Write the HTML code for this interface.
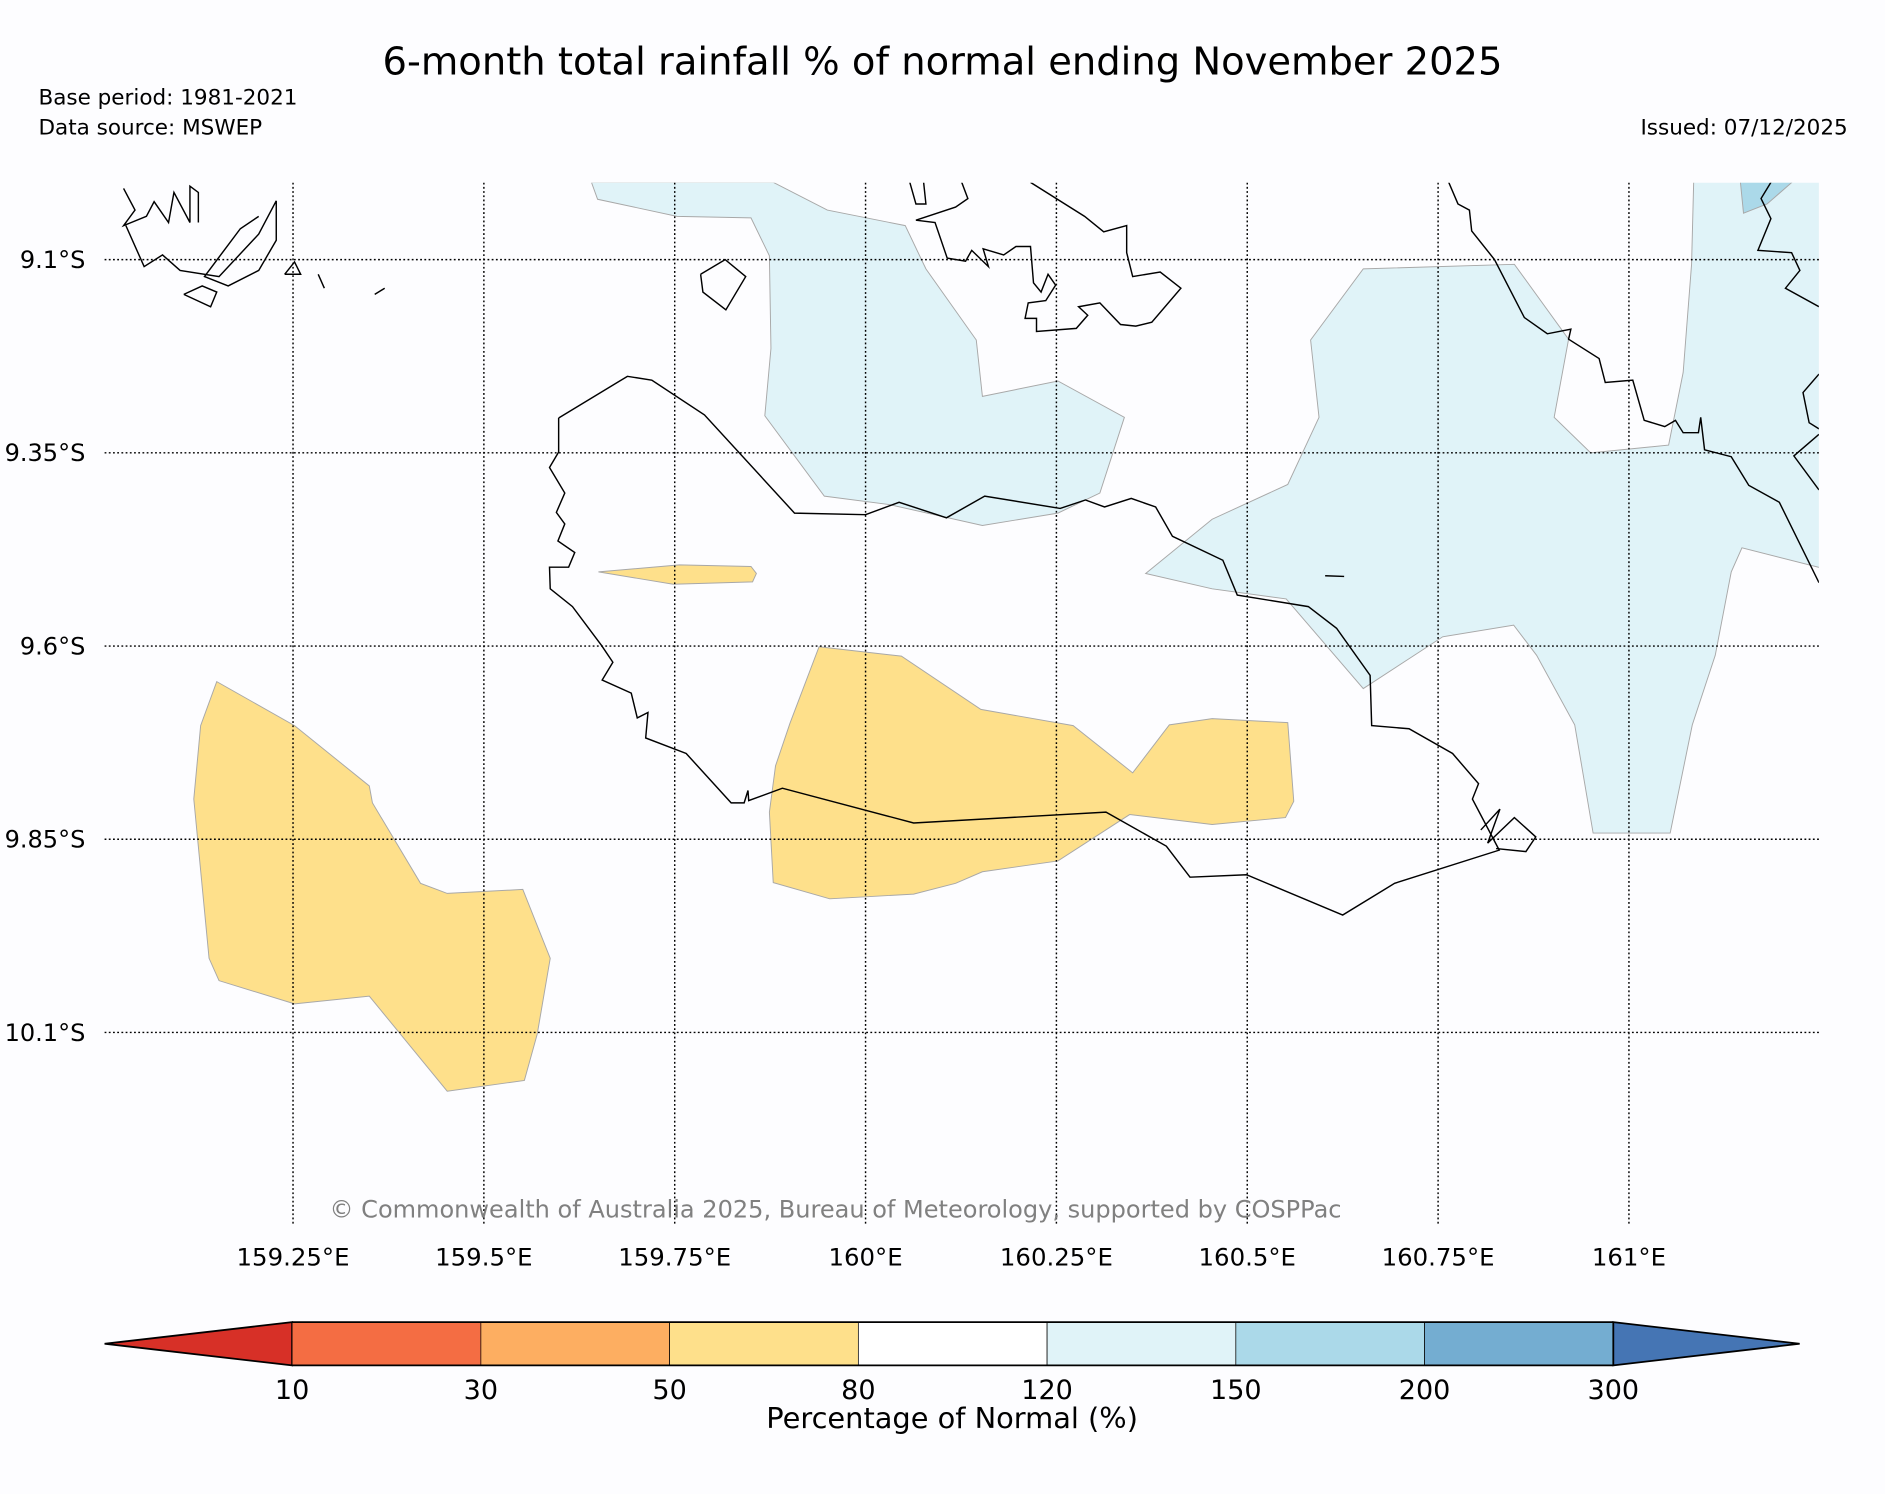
<!DOCTYPE html>
<html><head><meta charset="utf-8"><style>
html,body{margin:0;padding:0;background:#fdfdff;}
svg{display:block;font-family:"DejaVu Sans","Liberation Sans",sans-serif;}
</style></head><body>
<svg id="chart" width="1885" height="1494" viewBox="0 0 1568 1243" preserveAspectRatio="none" xmlns="http://www.w3.org/2000/svg">
<rect x="0" y="0" width="1568" height="1243" fill="#fdfdff"/>
<text x="784" y="62" font-size="32" text-anchor="middle">6-month total rainfall % of normal ending November 2025</text>
<text x="32" y="87" font-size="17.9">Base period: 1981-2021</text>
<text x="32" y="112" font-size="17.9">Data source: MSWEP</text>
<text x="1537" y="112" font-size="17.9" text-anchor="end">Issued: 07/12/2025</text>
<defs><clipPath id="mapclip"><rect x="87" y="152" width="1426" height="868"/></clipPath></defs>
<g id="map" clip-path="url(#mapclip)"></g>
<g id="grid"></g>
<g id="labels"></g>
<text x="695" y="1013" font-size="20" fill="#808080" text-anchor="middle">© Commonwealth of Australia 2025, Bureau of Meteorology, supported by COSPPac</text>
<g id="cbar"></g>
<text x="792" y="1188" font-size="24" text-anchor="middle">Percentage of Normal (%)</text>
</svg>
<script>
// ---- data ----
const lonTicks = [159.25, 159.5, 159.75, 160, 160.25, 160.5, 160.75, 161];
const lonTickLabels = ["159.25°E","159.5°E","159.75°E","160°E","160.25°E","160.5°E","160.75°E","161°E"];
const latTicks = [9.1, 9.35, 9.6, 9.85, 10.1];
const latTickLabels = ["9.1°S","9.35°S","9.6°S","9.85°S","10.1°S"];
const cbarBounds = ["10","30","50","80","120","150","200","300"];
const cbarColors = ["#d73027","#f46d43","#fdae61","#fee08b","#ffffff","#e0f3f8","#abd9e9","#74add1","#4575b4"];
const regionClasses = [3, 3, 3, 5, 5, 6];
const regionLeftDry = [[159.15,9.646],[159.252,9.703],[159.35,9.781],[159.354,9.803],[159.417,9.907],[159.452,9.920],[159.551,9.915],[159.587,10.004],[159.570,10.102],[159.553,10.162],[159.452,10.176],[159.35,10.053],[159.252,10.063],[159.153,10.033],[159.140,10.004],[159.120,9.798],[159.129,9.703]];
const regionCentreDry = [[159.939,9.601],[160.047,9.613],[160.151,9.682],[160.272,9.703],[160.350,9.764],[160.398,9.702],[160.454,9.694],[160.553,9.699],[160.561,9.801],[160.550,9.822],[160.454,9.831],[160.346,9.818],[160.252,9.878],[160.153,9.892],[160.118,9.907],[160.063,9.921],[159.953,9.927],[159.879,9.906],[159.874,9.815],[159.882,9.755],[159.901,9.700]];
const regionSmallDry = [[159.650,9.504],[159.756,9.495],[159.850,9.497],[159.857,9.506],[159.852,9.517],[159.748,9.520]];
const regionNorthWet = [[159.641,9.0],[159.649,9.022],[159.753,9.044],[159.850,9.046],[159.874,9.095],[159.876,9.215],[159.868,9.302],[159.946,9.406],[160.031,9.417],[160.153,9.444],[160.252,9.428],[160.307,9.402],[160.339,9.304],[160.252,9.257],[160.153,9.277],[160.145,9.204],[160.079,9.112],[160.052,9.056],[159.950,9.036],[159.879,9.0]];
const regionEastWet = [[160.652,9.112],[160.850,9.106],[160.921,9.203],[160.902,9.304],[160.950,9.350],[161.052,9.340],[161.071,9.246],[161.082,9.106],[161.085,8.99],[161.3,8.99],[161.3,9.511],[161.148,9.473],[161.134,9.504],[161.113,9.612],[161.083,9.702],[161.054,9.842],[160.953,9.842],[160.929,9.702],[160.879,9.612],[160.849,9.573],[160.756,9.588],[160.652,9.655],[160.551,9.539],[160.454,9.526],[160.367,9.506],[160.454,9.436],[160.553,9.391],[160.594,9.304],[160.583,9.204]];
const regionEastWetter = [[161.145,8.99],[161.225,8.99],[161.181,9.028],[161.150,9.040]];
const regions = [regionLeftDry, regionCentreDry, regionSmallDry, regionNorthWet, regionEastWet, regionEastWetter];
const coastIsabel = [[159.598,9.305],[159.688,9.251],[159.720,9.256],[159.789,9.301],[159.907,9.428],[160.0,9.430],[160.044,9.414],[160.106,9.434],[160.156,9.406],[160.255,9.422],[160.288,9.411],[160.313,9.420],[160.348,9.409],[160.380,9.420],[160.402,9.458],[160.468,9.489],[160.487,9.534],[160.580,9.549],[160.617,9.577],[160.661,9.638],[160.663,9.703],[160.712,9.707],[160.769,9.739],[160.803,9.778],[160.795,9.798],[160.830,9.864],[160.693,9.907],[160.625,9.948],[160.499,9.896],[160.425,9.899],[160.394,9.859],[160.315,9.815],[160.063,9.829],[159.891,9.784],[159.847,9.800],[159.846,9.787],[159.841,9.803],[159.824,9.803],[159.765,9.739],[159.712,9.719],[159.715,9.686],[159.701,9.693],[159.693,9.661],[159.655,9.644],[159.669,9.621],[159.654,9.599],[159.616,9.549],[159.587,9.526],[159.586,9.498],[159.611,9.498],[159.619,9.479],[159.597,9.464],[159.606,9.442],[159.595,9.427],[159.606,9.402],[159.586,9.369],[159.598,9.349],[159.598,9.305]];
const coastMalaita = [[160.764,9.0],[160.776,9.028],[160.791,9.036],[160.794,9.063],[160.824,9.100],[160.863,9.175],[160.893,9.196],[160.924,9.190],[160.921,9.203],[160.961,9.228],[160.969,9.259],[161.005,9.256],[161.020,9.308],[161.047,9.316],[161.061,9.308],[161.071,9.324],[161.091,9.324],[161.094,9.304],[161.099,9.346],[161.134,9.355],[161.157,9.392],[161.197,9.414],[161.249,9.518]];
const coastFarEast = [[161.186,9.0],[161.173,9.021],[161.186,9.047],[161.169,9.088],[161.213,9.091],[161.224,9.114],[161.205,9.137],[161.249,9.161]];
const coastNgella = [[160.126,9.0],[160.134,9.021],[160.118,9.032],[160.066,9.049],[160.091,9.052],[160.107,9.098],[160.131,9.102],[160.139,9.088],[160.161,9.109],[160.154,9.086],[160.181,9.094],[160.197,9.083],[160.216,9.083],[160.220,9.130],[160.230,9.142],[160.239,9.119],[160.249,9.133],[160.236,9.153],[160.213,9.156],[160.209,9.176],[160.224,9.176],[160.224,9.193],[160.276,9.189],[160.291,9.172],[160.279,9.161],[160.307,9.156],[160.334,9.184],[160.354,9.186],[160.375,9.181],[160.413,9.137],[160.386,9.116],[160.350,9.122],[160.342,9.091],[160.342,9.056],[160.312,9.064],[160.287,9.044],[160.216,9.0]];
const coastSavo = [[160.058,9.0],[160.066,9.028],[160.079,9.028],[160.076,9.0]];
const coastNW1 = [[159.028,9.008],[159.043,9.036],[159.028,9.056],[159.058,9.044],[159.068,9.025],[159.087,9.052],[159.094,9.013],[159.115,9.052],[159.115,9.005],[159.126,9.013],[159.126,9.052]];
const coastNW2 = [[159.031,9.056],[159.055,9.109],[159.079,9.094],[159.102,9.114],[159.153,9.122],[159.205,9.067],[159.228,9.024],[159.228,9.075],[159.205,9.114],[159.165,9.134],[159.134,9.122],[159.181,9.060],[159.205,9.044]];
const coastNW3 = [[159.107,9.145],[159.131,9.134],[159.150,9.142],[159.142,9.161],[159.107,9.145]];
const coastNW4 = [[159.239,9.119],[159.252,9.103],[159.260,9.119],[159.239,9.119]];
const coastNW5 = [[159.283,9.119],[159.291,9.137]];
const coastNW6 = [[159.357,9.145],[159.370,9.137]];
const coastLingo = [[159.784,9.119],[159.816,9.100],[159.843,9.122],[159.817,9.165],[159.787,9.142],[159.784,9.119]];
const coastDash = [[160.602,9.509],[160.627,9.510]];
const coastIslet = [[160.806,9.838],[160.831,9.811],[160.815,9.855],[160.850,9.822],[160.878,9.847],[160.865,9.866],[160.826,9.862]];
const coastEdge = [[161.249,9.248],[161.228,9.272],[161.236,9.311],[161.249,9.319]];
const coastEdge2 = [[161.249,9.326],[161.216,9.354],[161.249,9.398]];
const coasts = [coastIsabel, coastMalaita, coastFarEast, coastNgella, coastSavo, coastNW1, coastNW2, coastNW3, coastNW4, coastNW5, coastNW6, coastLingo, coastDash, coastIslet, coastEdge, coastEdge2];

const X = lon => 720 + (lon - 160) * 635;
const Y = lat => 216 + (lat - 9.1) * 643;
const NS = "http://www.w3.org/2000/svg";
function mk(tag, attrs, parent){ const e=document.createElementNS(NS,tag); for(const k in attrs) e.setAttribute(k,attrs[k]); parent.appendChild(e); return e; }
const pts = arr => arr.map(p => X(p[0]).toFixed(1)+","+Y(p[1]).toFixed(1)).join(" ");

const map = document.getElementById('map');
regions.forEach((r,i) => {
  const el = mk('polygon',{points:pts(r),fill:cbarColors[regionClasses[i]],stroke:'#a8a8a8','stroke-width':0.8},map);
  
  
});
coasts.forEach((c,i) => {
  const el = mk('polyline',{points:pts(c),fill:'none',stroke:'#000','stroke-width':1.2},map);
  
  
});

const grid = document.getElementById('grid');
const labels = document.getElementById('labels');
lonTicks.forEach((lon,i) => {
  const l = mk('line',{x1:X(lon),x2:X(lon),y1:152,y2:1020,stroke:'#000','stroke-width':1.2,'stroke-dasharray':'1.5,2'},grid);
  
  
  const t = mk('text',{x:X(lon),y:1053,'font-size':20.3,'text-anchor':'middle'},labels);
  t.textContent = lonTickLabels[i];
  
  
});
latTicks.forEach((lat,i) => {
  const l = mk('line',{x1:87,x2:1513,y1:Y(lat),y2:Y(lat),stroke:'#000','stroke-width':1.2,'stroke-dasharray':'1.5,2'},grid);
  
  
  const t = mk('text',{x:71,y:Y(lat)+7,'font-size':20,'text-anchor':'end'},labels);
  t.textContent = latTickLabels[i];
  
  
});

const cb = document.getElementById('cbar');
const cx0 = 243, cw = 157, cy0 = 1100, ch = 36;
const nb = cbarBounds.length;
const cx = i => cx0 + i * cw;
const lt = mk('polygon',{points:`87,${cy0+ch/2} ${cx0},${cy0} ${cx0},${cy0+ch}`,fill:cbarColors[0],stroke:'#000','stroke-width':1.5},cb);


for(let i=0;i<nb-1;i++){
  const r = mk('rect',{x:cx(i),y:cy0,width:cw,height:ch,fill:cbarColors[i+1],stroke:'#000','stroke-width':0.6},cb);
  
  
}
const rt = mk('polygon',{points:`${cx(nb-1)},${cy0} 1497,${cy0+ch/2} ${cx(nb-1)},${cy0+ch}`,fill:cbarColors[cbarColors.length-1],stroke:'#000','stroke-width':1.5},cb);


mk('line',{x1:cx0,x2:cx(nb-1),y1:cy0,y2:cy0,stroke:'#000','stroke-width':1.5},cb);
mk('line',{x1:cx0,x2:cx(nb-1),y1:cy0+ch,y2:cy0+ch,stroke:'#000','stroke-width':1.5},cb);
cbarBounds.forEach((b,i) => {
  const t = mk('text',{x:cx(i),y:1164,'font-size':22.5,'text-anchor':'middle'},cb);
  t.textContent = b;
  
  
});
</script>
</body></html>
